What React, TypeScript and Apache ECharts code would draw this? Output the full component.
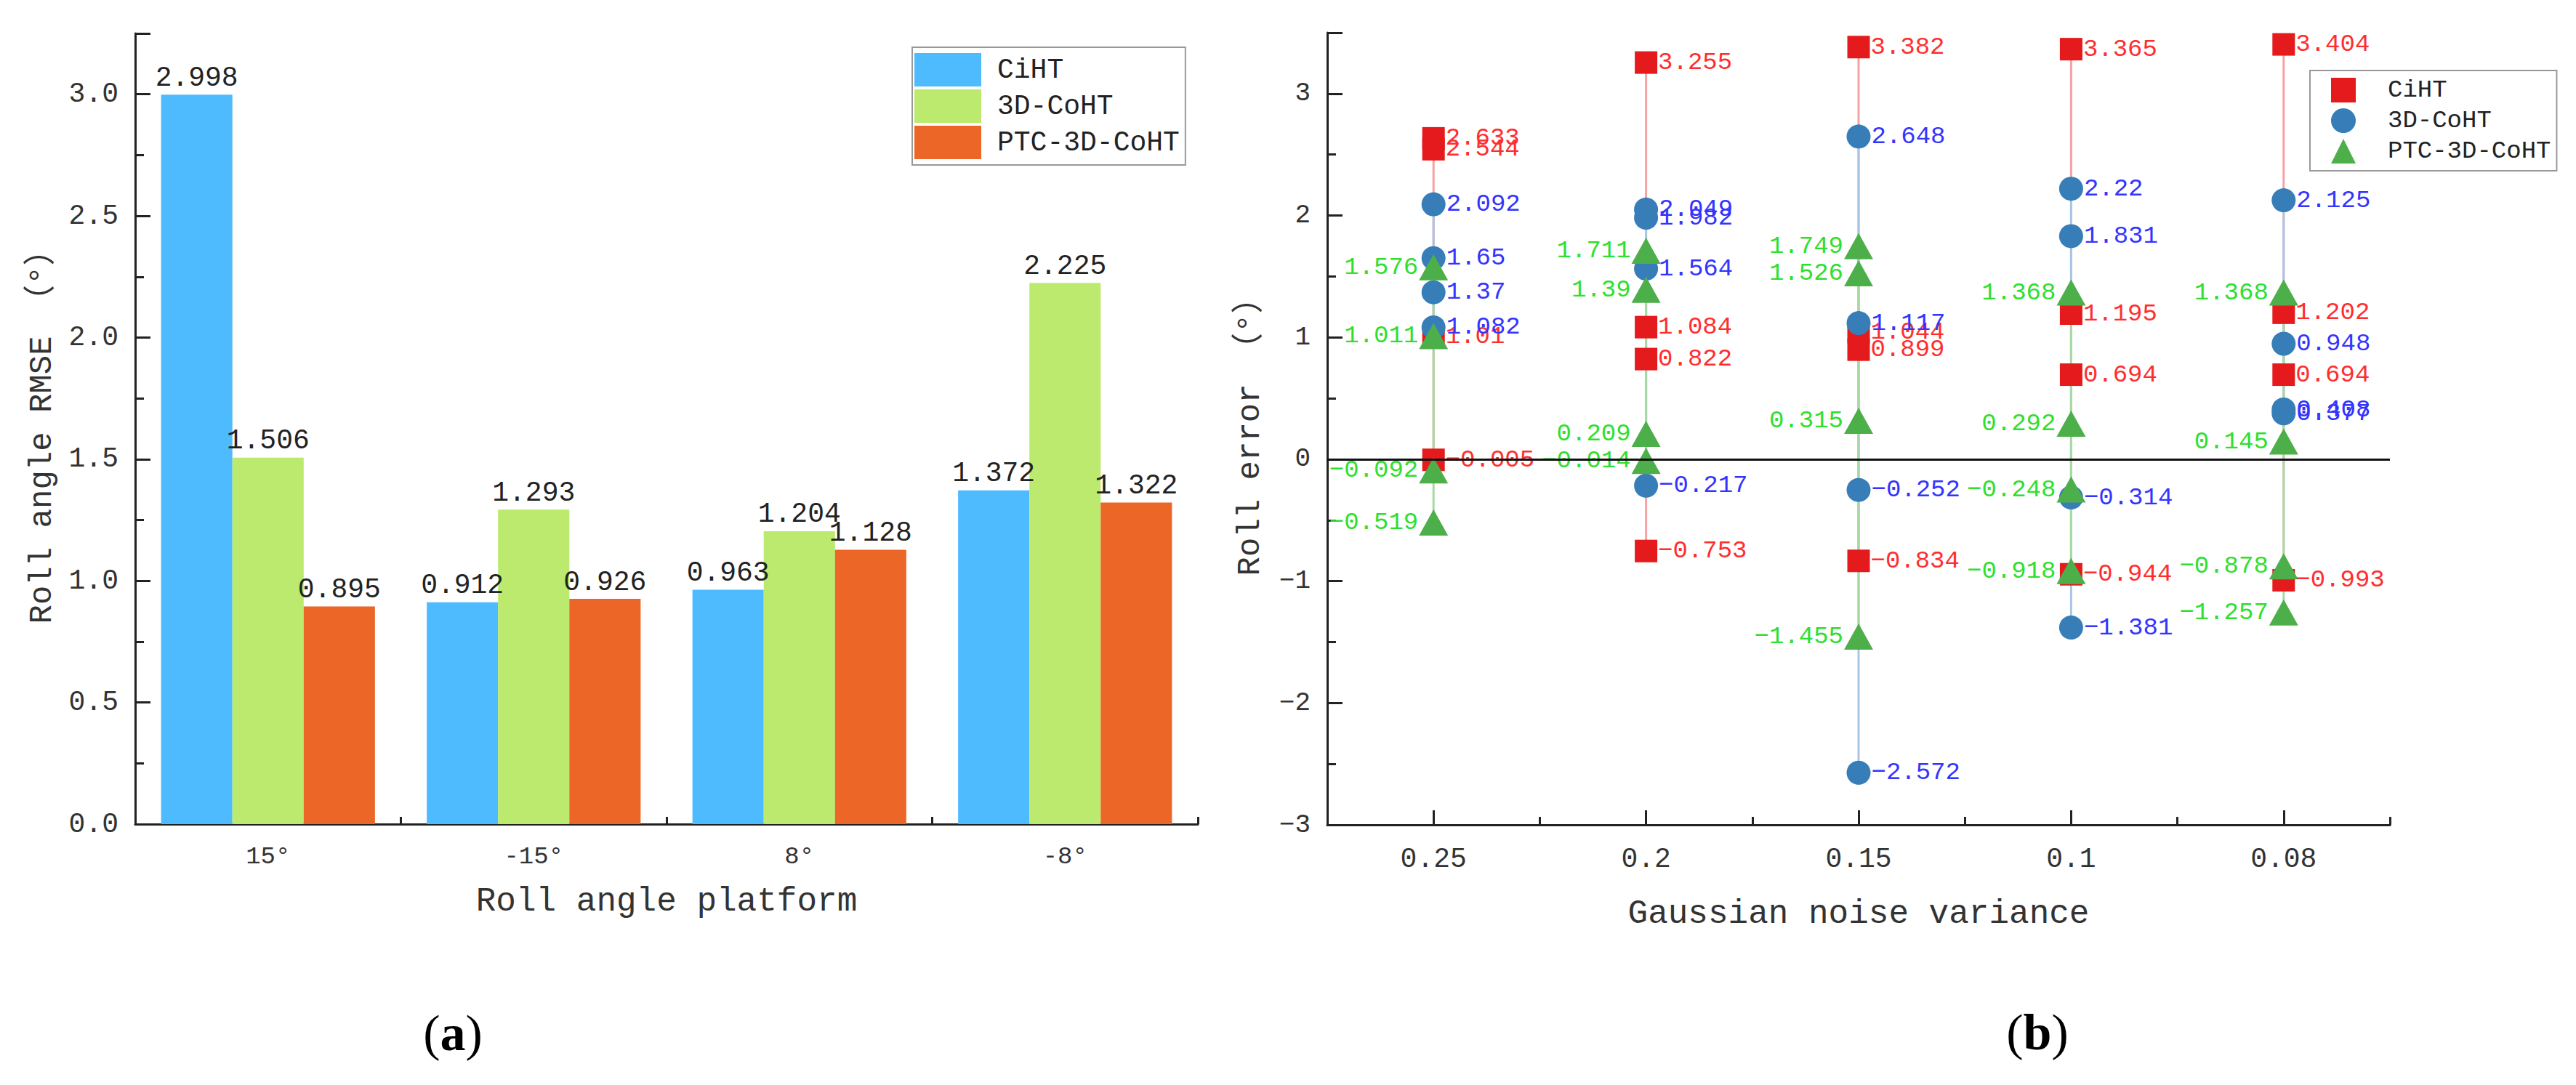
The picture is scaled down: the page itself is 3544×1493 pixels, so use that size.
import React, { useEffect, useRef } from 'react';
import * as echarts from 'echarts';

// ---------- data: panel (a) ----------
const barCategories = ['15°', '-15°', '8°', '-8°'];
const seriesNames = ['CiHT', '3D-CoHT', 'PTC-3D-CoHT'];
const rmseCiHT = [2.998, 0.912, 0.963, 1.372];
const rmseCoHT = [1.506, 1.293, 1.204, 2.225];
const rmsePTC = [0.895, 0.926, 1.128, 1.322];
const barColors = ['#4FBBFF', '#BBEA6E', '#EC6628'];

// ---------- data: panel (b) ----------
const noiseCategories = ['0.25', '0.2', '0.15', '0.1', '0.08'];
const errCiHT = [
  [2.633, 2.544, 1.01, -0.005],
  [3.255, 1.084, 0.822, -0.753],
  [3.382, 1.044, 0.899, -0.834],
  [3.365, 1.195, 0.694, -0.944],
  [3.404, 1.202, 0.694, -0.993],
];
const errCoHT = [
  [2.092, 1.65, 1.37, 1.082],
  [2.049, 1.982, 1.564, -0.217],
  [2.648, 1.117, -0.252, -2.572],
  [2.22, 1.831, -0.314, -1.381],
  [2.125, 0.948, 0.408, 0.377],
];
const errPTC = [
  [1.576, 1.011, -0.092, -0.519],
  [1.711, 1.39, 0.209, -0.014],
  [1.749, 1.526, 0.315, -1.455],
  [1.368, 0.292, -0.248, -0.918],
  [1.368, 0.145, -0.878, -1.257],
];
const markerColors = ['#E41A1C', '#377EB8', '#4DAF4A'];
const rangeLineColors = ['#F4A3A3', '#A9C7E5', '#A7D9A5'];
const labelColors = ['#FF2E2E', '#3434FF', '#2EE02E'];
const markerSymbols = ['rect', 'circle', 'triangle'];

const FONT = '"Liberation Mono", "Noto Sans CJK SC", monospace';
const AX = '#222';
const TXT = '#333';

const fmt = (v: number) => (v < 0 ? '\u2212' + String(-v) : String(v));

function categoryAxes(
  gridIndex: number,
  data: string[],
  labelSize: number,
  labelMargin: number,
  name: string,
  nameGap: number,
  longTick: number,
  shortTick: number
) {
  const ls = { color: AX, width: 3 };
  return [
    {
      type: 'category',
      gridIndex,
      data,
      position: 'bottom',
      boundaryGap: true,
      axisLine: { show: true, onZero: false, lineStyle: ls },
      axisTick: { show: true, alignWithLabel: true, inside: true, length: longTick, lineStyle: ls },
      axisLabel: { fontFamily: FONT, fontSize: labelSize, color: TXT, margin: labelMargin },
      splitLine: { show: false },
      name,
      nameLocation: 'middle',
      nameGap,
      nameTextStyle: { fontFamily: FONT, fontSize: 46, color: TXT },
    },
    {
      type: 'category',
      gridIndex,
      data,
      position: 'bottom',
      boundaryGap: true,
      axisLine: { show: false, onZero: false },
      axisTick: { show: true, inside: true, length: shortTick, lineStyle: ls },
      axisLabel: { show: false },
      splitLine: { show: false },
    },
  ];
}

function valueAxis(
  gridIndex: number,
  min: number,
  max: number,
  interval: number,
  formatter: (v: number) => string,
  labelSize: number,
  name: string,
  nameGap: number
) {
  const ls = { color: AX, width: 3 };
  return {
    type: 'value',
    gridIndex,
    min,
    max,
    interval,
    axisLine: { show: true, onZero: false, lineStyle: ls },
    axisTick: { show: true, inside: true, length: 21, lineStyle: ls },
    minorTick: { show: true, splitNumber: 2, length: 12, lineStyle: ls },
    splitLine: { show: false },
    minorSplitLine: { show: false },
    axisLabel: {
      formatter,
      showMaxLabel: false,
      fontFamily: FONT,
      fontSize: labelSize,
      color: TXT,
      margin: 23,
    },
    name,
    nameLocation: 'middle',
    nameGap,
    nameRotate: 90,
    nameTextStyle: { fontFamily: FONT, fontSize: 44, color: TXT },
  };
}

export default function App() {
  const ref = useRef<HTMLDivElement>(null);

  useEffect(() => {
    document.body.style.margin = '0';
    document.body.style.overflow = 'hidden';
    if (!ref.current) return;
    const chart = echarts.init(ref.current, undefined, { renderer: 'svg' });

    const rmse = [rmseCiHT, rmseCoHT, rmsePTC];
    const errs = [errCiHT, errCoHT, errPTC];

    const barSeries = rmse.map((vals, i) => ({
      type: 'bar',
      name: seriesNames[i],
      xAxisIndex: 0,
      yAxisIndex: 0,
      data: vals,
      barGap: '0%',
      barCategoryGap: '19.5%',
      itemStyle: { color: barColors[i] },
      label: {
        show: true,
        position: 'top',
        distance: 4,
        fontFamily: FONT,
        fontSize: 38,
        color: '#222',
        formatter: (p: any) => fmt(p.value),
      },
    }));

    const rangeSeries = errs.map((vals, i) => ({
      type: 'custom',
      name: seriesNames[i] + ' range',
      xAxisIndex: 2,
      yAxisIndex: 1,
      silent: true,
      z: 2,
      encode: { x: 0, y: [1, 2] },
      data: vals.map((arr, c) => [c, Math.min(...arr), Math.max(...arr)]),
      renderItem: (params: any, api: any) => {
        const p1 = api.coord([api.value(0), api.value(1)]);
        const p2 = api.coord([api.value(0), api.value(2)]);
        return {
          type: 'line',
          shape: { x1: p1[0], y1: p1[1], x2: p2[0], y2: p2[1] },
          style: { stroke: rangeLineColors[i], lineWidth: 3 },
        };
      },
      ...(i === 2
        ? {
            markLine: {
              silent: true,
              symbol: 'none',
              label: { show: false },
              lineStyle: { color: '#111', width: 3, type: 'solid' },
              data: [{ yAxis: 0 }],
            },
          }
        : {}),
    }));

    const scatterSeries = errs.map((vals, i) => ({
      type: 'scatter',
      name: seriesNames[i],
      xAxisIndex: 2,
      yAxisIndex: 1,
      z: 3,
      symbol: markerSymbols[i],
      symbolSize: i === 2 ? [40, 36] : i === 0 ? 31 : 33,
      itemStyle: { color: markerColors[i], opacity: 1 },
      data: vals.flatMap((arr, c) => arr.map((v) => [c, v])),
      label: {
        show: true,
        position: i === 2 ? 'left' : 'right',
        distance: 1,
        fontFamily: FONT,
        fontSize: 34,
        color: labelColors[i],
        formatter: (p: any) => fmt(p.value[1]),
      },
    }));

    const option: any = {
      animation: false,
      backgroundColor: '#ffffff',
      grid: [
        { left: 186, right: 1896, top: 46, bottom: 359, containLabel: false },
        { left: 1826, right: 256, top: 45, bottom: 358, containLabel: false },
      ],
      xAxis: [
        ...categoryAxes(0, barCategories, 34, 28, 'Roll angle platform', 84, 19, 10),
        ...categoryAxes(1, noiseCategories, 38, 28, 'Gaussian noise variance', 100, 20, 11),
      ],
      yAxis: [
        valueAxis(0, 0, 3.25, 0.5, (v) => v.toFixed(1), 38, 'Roll angle RMSE （°）', 106),
        valueAxis(1, -3, 3.5, 1, (v) => fmt(v), 36, 'Roll error （°）', 84),
      ],
      legend: [
        {
          data: seriesNames.map((n, i) => ({ name: n, itemStyle: { color: barColors[i] } })),
          left: 1255,
          top: 65,
          orient: 'vertical',
          icon: 'rect',
          itemWidth: 92,
          itemHeight: 46,
          itemGap: 4,
          padding: [8, 8, 8, 3],
          borderColor: '#999',
          borderWidth: 2,
          textStyle: { fontFamily: FONT, fontSize: 38, color: '#222', padding: [0, 0, 0, 17] },
        },
        {
          data: seriesNames.map((n, i) => ({
            name: n,
            icon: markerSymbols[i],
            itemStyle: { color: markerColors[i] },
          })),
          left: 3178,
          top: 97,
          orient: 'vertical',
          itemWidth: 34,
          itemHeight: 34,
          itemGap: 8,
          padding: [10, 8, 10, 29],
          borderColor: '#999',
          borderWidth: 2,
          textStyle: { fontFamily: FONT, fontSize: 34, color: '#222', padding: [0, 0, 0, 39] },
        },
      ],
      graphic: [
        {
          type: 'text',
          x: 623,
          y: 1421,
          style: {
            text: '{p|(}{b|a}{p|)}',
            align: 'center',
            verticalAlign: 'middle',
            rich: {
              p: { fontFamily: '"Liberation Serif", serif', fontSize: 70, fill: '#000' },
              b: { fontFamily: '"Liberation Serif", serif', fontSize: 70, fontWeight: 'bold', fill: '#000' },
            },
          },
        },
        {
          type: 'text',
          x: 2803,
          y: 1420,
          style: {
            text: '{p|(}{b|b}{p|)}',
            align: 'center',
            verticalAlign: 'middle',
            rich: {
              p: { fontFamily: '"Liberation Serif", serif', fontSize: 70, fill: '#000' },
              b: { fontFamily: '"Liberation Serif", serif', fontSize: 70, fontWeight: 'bold', fill: '#000' },
            },
          },
        },
      ],
      series: [...barSeries, ...rangeSeries, ...scatterSeries],
    };

    chart.setOption(option);
    return () => chart.dispose();
  }, []);

  return <div ref={ref} style={{ width: 3544, height: 1493 }} />;
}
